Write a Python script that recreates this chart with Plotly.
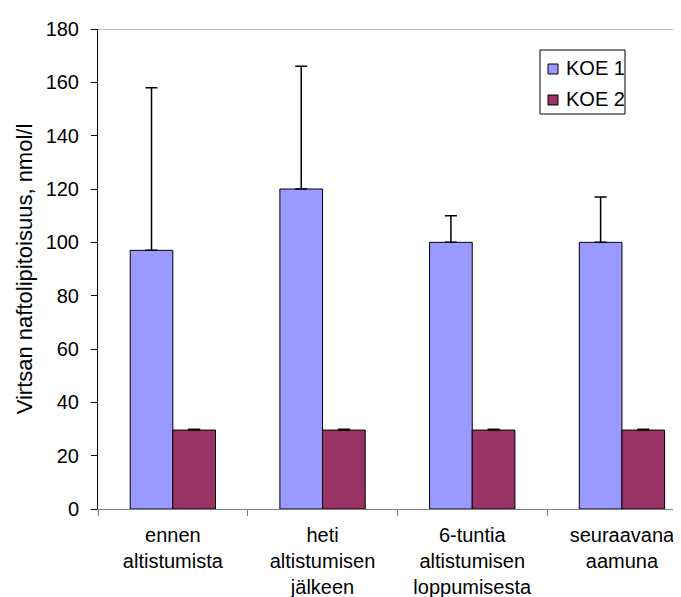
import plotly.graph_objects as go

categories = ["ennen<br>altistumista", "heti<br>altistumisen<br>jälkeen",
              "6-tuntia<br>altistumisen<br>loppumisesta", "seuraavana<br>aamuna"]
series_names = ["KOE 1", "KOE 2"]
koe1 = [97, 120, 100, 100]
koe1_err = [61, 46, 10, 17]
koe2 = [29.6, 29.6, 29.6, 29.6]
koe2_err = [0.3, 0.3, 0.3, 0.3]
y_ticks = [0, 20, 40, 60, 80, 100, 120, 140, 160, 180]
colors = ["#9999FF", "#993366"]

FONT = "Liberation Sans, Arial, sans-serif"

# plot area in pixels
L, R, T, B = 90, 681, 21, 501
W, H = 681, 597


def px(x):
    return (x - L) / (R - L)


def py(y):
    return (B - y) / (B - T)


fig = go.Figure()
for name, vals, errs, col in [(series_names[0], koe1, koe1_err, colors[0]),
                              (series_names[1], koe2, koe2_err, colors[1])]:
    fig.add_trace(go.Bar(
        name=name, x=categories, y=vals,
        marker=dict(color=col, line=dict(color="black", width=1)),
        error_y=dict(type="data", symmetric=False, array=errs,
                     arrayminus=[0] * len(errs), color="black", thickness=1.5, width=6),
    ))

# top border of plot area
fig.add_shape(type="line", xref="paper", yref="y", x0=0, x1=1, y0=180, y1=180,
              line=dict(color="#808080", width=1))

# custom legend
fig.add_shape(type="rect", xref="paper", yref="paper",
              x0=px(532), x1=px(617), y0=py(106), y1=py(42),
              line=dict(color="black", width=1), fillcolor="white", layer="above")
for i, (name, col) in enumerate(zip(series_names, colors)):
    cy = 61 + i * 31
    fig.add_shape(type="rect", xref="paper", yref="paper",
                  x0=px(540), x1=px(550), y0=py(cy + 5), y1=py(cy - 5),
                  line=dict(color="black", width=1), fillcolor=col, layer="above")
    fig.add_annotation(text=name, xref="paper", yref="paper", x=px(556), y=py(cy - 1),
                       xanchor="left", yanchor="middle", showarrow=False,
                       font=dict(size=20, family=FONT, color="black"))

fig.update_layout(
    width=W, height=H,
    margin=dict(l=L, r=W - R, t=T, b=H - B),
    paper_bgcolor="white", plot_bgcolor="white",
    barmode="group", bargap=0.43, bargroupgap=0,
    font=dict(family=FONT, size=20, color="black"),
    showlegend=False,
    xaxis=dict(range=[-0.5, 3.448], showline=True, linecolor="#808080", linewidth=1,
               ticks="outside", tickson="boundaries", ticklen=6, tickcolor="#808080",
               showgrid=False, tickfont=dict(size=20), ticklabelstandoff=8),
    yaxis=dict(range=[0, 180], tickvals=y_ticks, showline=True, linecolor="black",
               linewidth=1, ticks="outside", ticklen=6, tickcolor="black",
               showgrid=False, zeroline=False, tickfont=dict(size=20), ticklabelstandoff=8,
               title=dict(text="Virtsan naftolipitoisuus, nmol/l", font=dict(size=22), standoff=6)),
)

fig.write_html("out.html")
